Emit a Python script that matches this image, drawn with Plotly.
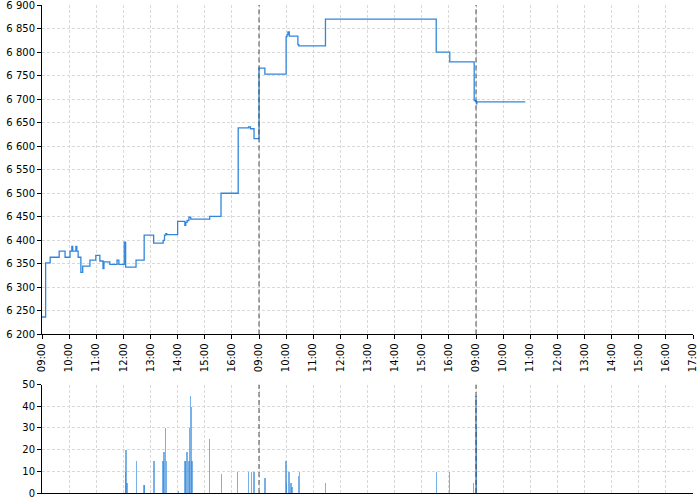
import plotly.graph_objects as go

# ---- data ----
# hour tick labels along the x axis (three trading sessions 09:00-17:00)
tick_labels = ["09:00", "10:00", "11:00", "12:00", "13:00", "14:00", "15:00", "16:00",
               "09:00", "10:00", "11:00", "12:00", "13:00", "14:00", "15:00", "16:00",
               "09:00", "10:00", "11:00", "12:00", "13:00", "14:00", "15:00", "16:00", "17:00"]

# price steps: session index, time, price
price_day = [0]*42 + [1]*12 + [2]*4
price_time = ["09:00", "09:08", "09:18", "09:38", "09:51", "10:02", "10:06", "10:08", "10:15", "10:17",
              "10:20", "10:26", "10:30", "10:46", "10:59", "11:08", "11:15", "11:17", "11:30", "11:46",
              "11:50", "12:02", "12:05", "12:28", "12:46", "13:07", "13:28", "13:31", "13:34", "13:36",
              "14:00", "14:16", "14:18", "14:21", "14:25", "14:29", "15:11",
              "15:36", "16:14", "16:37", "16:41", "16:49",
              "09:00", "09:13", "10:00", "10:02", "10:04", "10:07", "10:26",
              "10:28", "11:27", "15:32", "16:02", "16:56",
              "09:00", "09:01", "09:02", "10:49"]
price_value = [6237, 6352, 6364, 6377, 6364, 6377, 6387, 6377, 6387, 6377,
               6364, 6332, 6345, 6358, 6368, 6356, 6340, 6354, 6349, 6358,
               6349, 6396, 6343, 6358, 6411, 6394, 6400, 6411, 6414, 6412,
               6440, 6432, 6438, 6442, 6449, 6445, 6451,
               6500, 6639, 6641, 6637, 6616,
               6766, 6753, 6833, 6837, 6843, 6834, 6816,
               6813, 6870, 6800, 6779, 6697,
               6695, 6690, 6694, 6694]

# volume bars: session index, time, volume
vol_day = [0]*26 + [1]*13 + [2]*2
vol_time = ["12:04", "12:06", "12:08", "12:29", "12:46", "12:47", "13:08", "13:28", "13:30", "13:33",
            "13:35", "14:02", "14:16", "14:18", "14:21", "14:25", "14:26", "14:28", "14:30", "14:32",
            "15:11", "15:37", "16:13", "16:37", "16:43", "16:49",
            "09:13", "10:00", "10:01", "10:05", "10:07", "10:11", "10:13", "10:27", "10:30", "11:27",
            "15:32", "16:02", "16:55",
            "09:00", "09:01"]
vol_value = [10, 20, 5, 15, 4, 4, 15, 15, 19, 30,
             15, 1, 15, 15, 19, 15, 30, 45, 40, 15,
             25, 9, 10, 10, 10, 10,
             7, 15, 5, 10, 10, 5, 3, 8, 10, 5,
             10, 10, 5,
             45, 30]

SESSION_HOURS = 8
OPEN_HOUR = 9


def to_x(day, t):
    hh, mm = t.split(":")
    return day * SESSION_HOURS + (int(hh) - OPEN_HOUR) + int(mm) / 60.0


px = [to_x(d, t) for d, t in zip(price_day, price_time)]
vx = [to_x(d, t) for d, t in zip(vol_day, vol_time)]

BLUE = "#2f86dc"
FONT = "DejaVu Sans"

fig = go.Figure()
fig.add_trace(go.Scatter(x=px, y=price_value, mode="lines", line=dict(color=BLUE, width=1.3, shape="hv"),
                         xaxis="x", yaxis="y", showlegend=False))
fig.add_trace(go.Bar(x=vx, y=vol_value, width=0.05, marker=dict(color="rgba(47,134,220,0.65)", line_width=0),
                     xaxis="x2", yaxis="y2", showlegend=False))

tickvals = list(range(len(tick_labels)))
grid = dict(showgrid=True, gridcolor="#d9d9d9", griddash="3px,2px", gridwidth=1)
common_x = dict(range=[0, 24], tickvals=tickvals, ticktext=tick_labels, zeroline=False,
                showline=True, linecolor="black", linewidth=1, tickcolor="black",
                automargin=False, ticklabeloverflow="allow", **grid)
common_y = dict(showline=True, linecolor="black", ticks="outside", ticklen=4, tickcolor="black",
                zeroline=False, automargin=False, ticklabeloverflow="allow", **grid)

fig.update_layout(
    width=700, height=500,
    margin=dict(l=42, r=7, t=5, b=7),
    plot_bgcolor="white", paper_bgcolor="white",
    separators=". ",
    font=dict(family=FONT, size=10, color="black"),
    bargap=0, barmode="overlay",
    xaxis=dict(anchor="y", tickangle=-90, tickfont=dict(size=10), ticks="outside", ticklen=4, **common_x),
    xaxis2=dict(anchor="y2", matches="x", showticklabels=False, ticks="", **common_x),
    yaxis=dict(domain=[0.325, 1], range=[6200, 6900], dtick=50, tickformat=",d", **common_y),
    yaxis2=dict(domain=[0, 0.222], range=[0, 50], dtick=10, **common_y),
)

for d in range(1, 3):
    for xr, yr in (("x", "y domain"), ("x2", "y2 domain")):
        fig.add_shape(type="line", xref=xr, yref=yr, x0=d * SESSION_HOURS, x1=d * SESSION_HOURS,
                      y0=0, y1=1, line=dict(color="#4a4a4a", width=1, dash="5px,3px"), layer="above")

fig.write_html("out.html", config={"displayModeBar": False},
               post_script="document.body.style.margin='0';document.body.style.overflow='hidden';")
